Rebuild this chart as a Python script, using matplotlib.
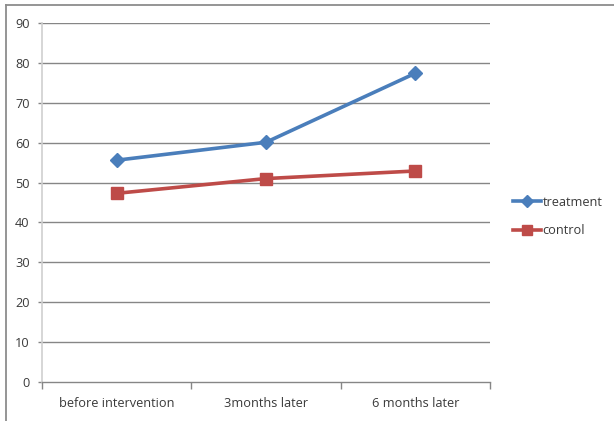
import matplotlib
matplotlib.use("Agg")
import matplotlib.pyplot as plt
from matplotlib.lines import Line2D

categories = ["before intervention", "3months later", "6 months later"]
treatment = [55.6, 60.1, 77.4]
control = [47.3, 51.0, 52.9]
yticks = [0, 10, 20, 30, 40, 50, 60, 70, 80, 90]

W, H = 614, 421
fig = plt.figure(figsize=(W / 100, H / 100), dpi=100)
plt.rcParams["font.family"] = ["Open Sans", "DejaVu Sans"]

# plot area in pixel coordinates
x0, x1 = 42, 490
y_top, y_bot = 23, 382
ax = fig.add_axes([x0 / W, 1 - y_bot / H, (x1 - x0) / W, (y_bot - y_top) / H])

xs = [0.5, 1.5, 2.5]
ax.set_xlim(0, 3)
ax.set_ylim(0, 90)

for v in yticks[1:]:
    ax.axhline(v, color="#868686", lw=1.0, zorder=1)

ax.plot(xs, treatment, color="#4a7ebb", lw=2.6, marker="D", ms=7.5,
        markerfacecolor="#4a7ebb", markeredgecolor="#4a7ebb", zorder=3,
        label="treatment", solid_capstyle="round")
ax.plot(xs, control, color="#be4b48", lw=2.6, marker="s", ms=8,
        markerfacecolor="#be4b48", markeredgecolor="#be4b48", zorder=3,
        label="control", solid_capstyle="round")

for s in ["top", "right"]:
    ax.spines[s].set_visible(False)
ax.spines["left"].set_color("#d0d0d0")
ax.spines["left"].set_linewidth(1.2)
ax.spines["bottom"].set_color("#868686")
ax.spines["bottom"].set_linewidth(1.0)

fs = 9.2
ax.set_yticks(yticks)
ax.set_yticklabels([str(v) for v in yticks], fontsize=fs, color="#3a3a3a")
ax.tick_params(axis="y", length=3, width=1.0, color="#868686", pad=6)

ax.set_xticks([0, 1, 2, 3], minor=False)
ax.set_xticklabels([])
ax.tick_params(axis="x", which="major", length=5, width=1.0, color="#868686", direction="out")
ax.set_xticks(xs, minor=True)
ax.set_xticklabels(categories, minor=True, fontsize=fs, color="#3a3a3a")
ax.tick_params(axis="x", which="minor", length=0, pad=11)

handles = [
    Line2D([], [], color="#4a7ebb", lw=2.6, marker="D", ms=6, label="treatment"),
    Line2D([], [], color="#be4b48", lw=2.6, marker="s", ms=6.5, label="control"),
]
fig.legend(handles=handles, loc="upper left", bbox_to_anchor=(501 / W, 1 - 184 / H),
           frameon=False, fontsize=fs, handlelength=2.2, handletextpad=0.15,
           labelspacing=1.25, labelcolor="#3a3a3a")

# outer frame (top and left edges)
fig.add_artist(Line2D([6 / W, 6 / W], [0, 1 - 5 / H], transform=fig.transFigure,
                      color="#8c8c8c", lw=1.3))
fig.add_artist(Line2D([6 / W, 1], [1 - 5 / H, 1 - 5 / H], transform=fig.transFigure,
                      color="#8c8c8c", lw=1.3))

fig.savefig("out.png", dpi=100)
